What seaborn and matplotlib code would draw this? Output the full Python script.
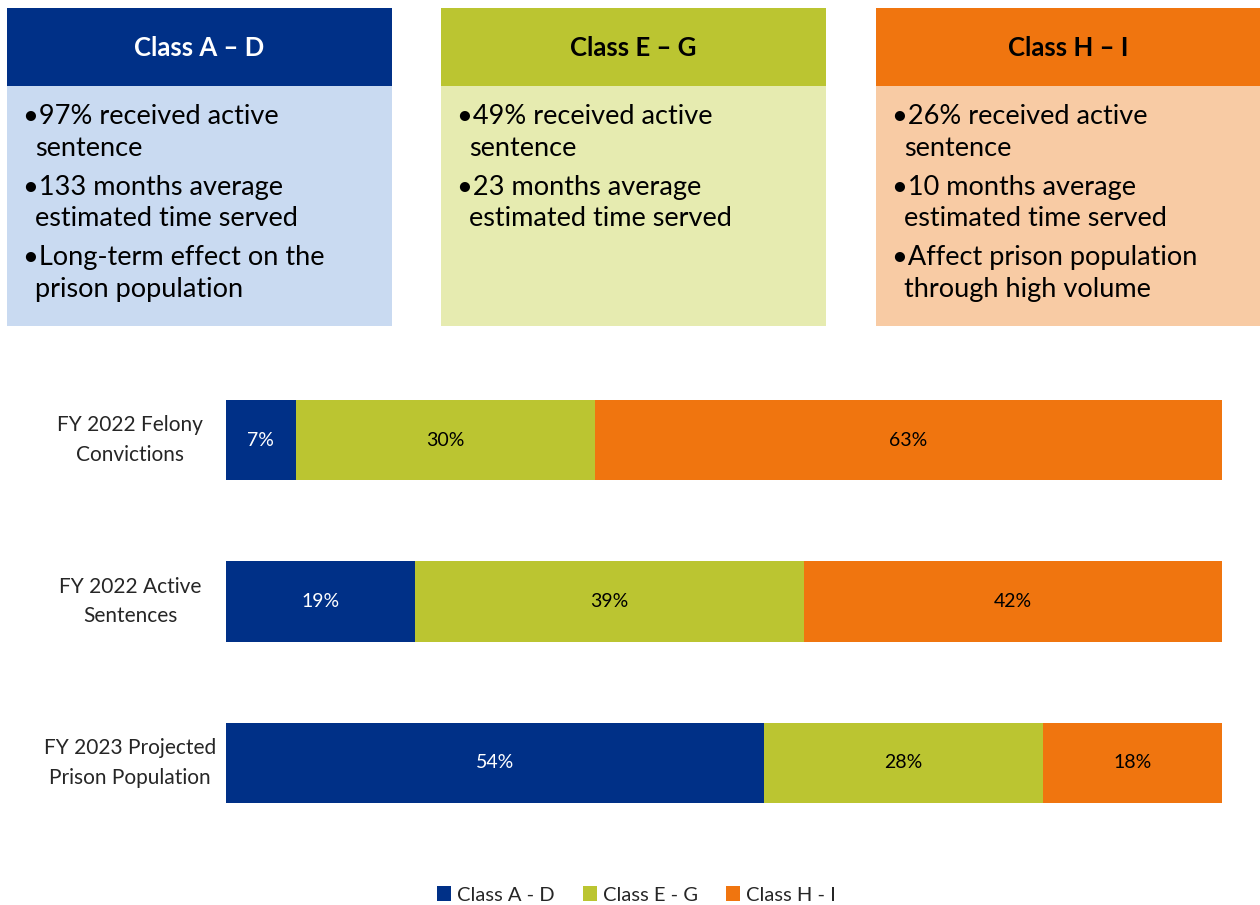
import matplotlib
matplotlib.use("Agg")
import matplotlib.pyplot as plt
from matplotlib.patches import Rectangle, Patch
import numpy as np
import pandas as pd
import seaborn as sns

# data
groups = ["FY 2022 Felony\nConvictions", "FY 2022 Active\nSentences", "FY 2023 Projected\nPrison Population"]
classes = ["Class A - D", "Class E - G", "Class H - I"]
class_a_d = [7, 19, 54]
class_e_g = [30, 39, 28]
class_h_i = [63, 42, 18]

box_titles = ["Class A \u2013 D", "Class E \u2013 G", "Class H \u2013 I"]
box_items = [
    [["97% received active", "sentence"], ["133 months average", "estimated time served"],
     ["Long-term effect on the", "prison population"]],
    [["49% received active", "sentence"], ["23 months average", "estimated time served"]],
    [["26% received active", "sentence"], ["10 months average", "estimated time served"],
     ["Affect prison population", "through high volume"]],
]

dark = ["#003087", "#BBC531", "#F0750F"]
light = ["#C9DAF1", "#E6EBB0", "#F8CBA4"]
title_colors = ["white", "black", "black"]

sns.set_theme(style="white")
plt.rcParams["font.family"] = ["Lato", "DejaVu Sans"]

W, H = 1260, 905
fig = plt.figure(figsize=(12.6, 9.05), dpi=100)

def fx(px):
    return px / W

def fy(py):
    return 1 - py / H

# top boxes
box_left = [7, 441, 876]
box_w = 385
for i in range(3):
    bx = fig.add_axes([fx(box_left[i]), fy(326), fx(box_w), (326 - 8) / H])
    bx.set_xlim(0, box_w)
    bx.set_ylim(326, 8)
    bx.axis("off")
    bx.add_patch(Rectangle((0, 86), box_w, 240, facecolor=light[i], edgecolor="none"))
    bx.add_patch(Rectangle((0, 8), box_w, 78, facecolor=dark[i], edgecolor="none"))
    bx.text(box_w / 2, 48, box_titles[i], ha="center", va="center", fontsize=18.5,
            fontweight="bold", color=title_colors[i])
    y = 117
    for item in box_items[i]:
        bx.text(16, y, "\u2022" + item[0], ha="left", va="center", fontsize=19.5, color="black")
        y += 32
        for line in item[1:]:
            bx.text(28, y, line, ha="left", va="center", fontsize=19.5, color="black")
            y += 32
        y += 6

# stacked bar chart
df = pd.DataFrame({"group": groups, "a": class_a_d, "e": class_e_g, "h": class_h_i})
df["ae"] = df["a"] + df["e"]
df["total"] = df["ae"] + df["h"]

ax = fig.add_axes([fx(226), fy(843.5), fx(996), 484 / H])
for col, c in zip(["total", "ae", "a"], [dark[2], dark[1], dark[0]]):
    sns.barplot(data=df, y="group", x=col, color=c, width=0.5, saturation=1,
                linewidth=0, ax=ax, orient="h")

ax.set_xlim(0, 100)
ax.set_ylim(2.5, -0.5)
ax.set_xlabel("")
ax.set_ylabel("")
ax.set_xticks([])
ax.tick_params(axis="y", length=0, pad=69, labelsize=15)
for lab in ax.get_yticklabels():
    lab.set_horizontalalignment("center")
    lab.set_verticalalignment("center")
    lab.set_multialignment("center")
    lab.set_linespacing(1.6)
sns.despine(ax=ax, left=True, bottom=True)

for k in range(len(groups)):
    starts = [0, class_a_d[k], class_a_d[k] + class_e_g[k]]
    vals = [class_a_d[k], class_e_g[k], class_h_i[k]]
    for s, v, c in zip(starts, vals, ["white", "black", "black"]):
        ax.text(s + v / 2, k, f"{v}%", ha="center", va="center", fontsize=14, color=c)

handles = [Patch(facecolor=dark[i], edgecolor="none", label=classes[i]) for i in range(3)]
fig.legend(handles=handles, loc="center", bbox_to_anchor=(0.505, fy(895)), ncol=3, frameon=False,
           fontsize=14.5, handlelength=0.7, handleheight=0.7, handletextpad=0.3, columnspacing=1.4)

fig.savefig("out.png", dpi=100)
